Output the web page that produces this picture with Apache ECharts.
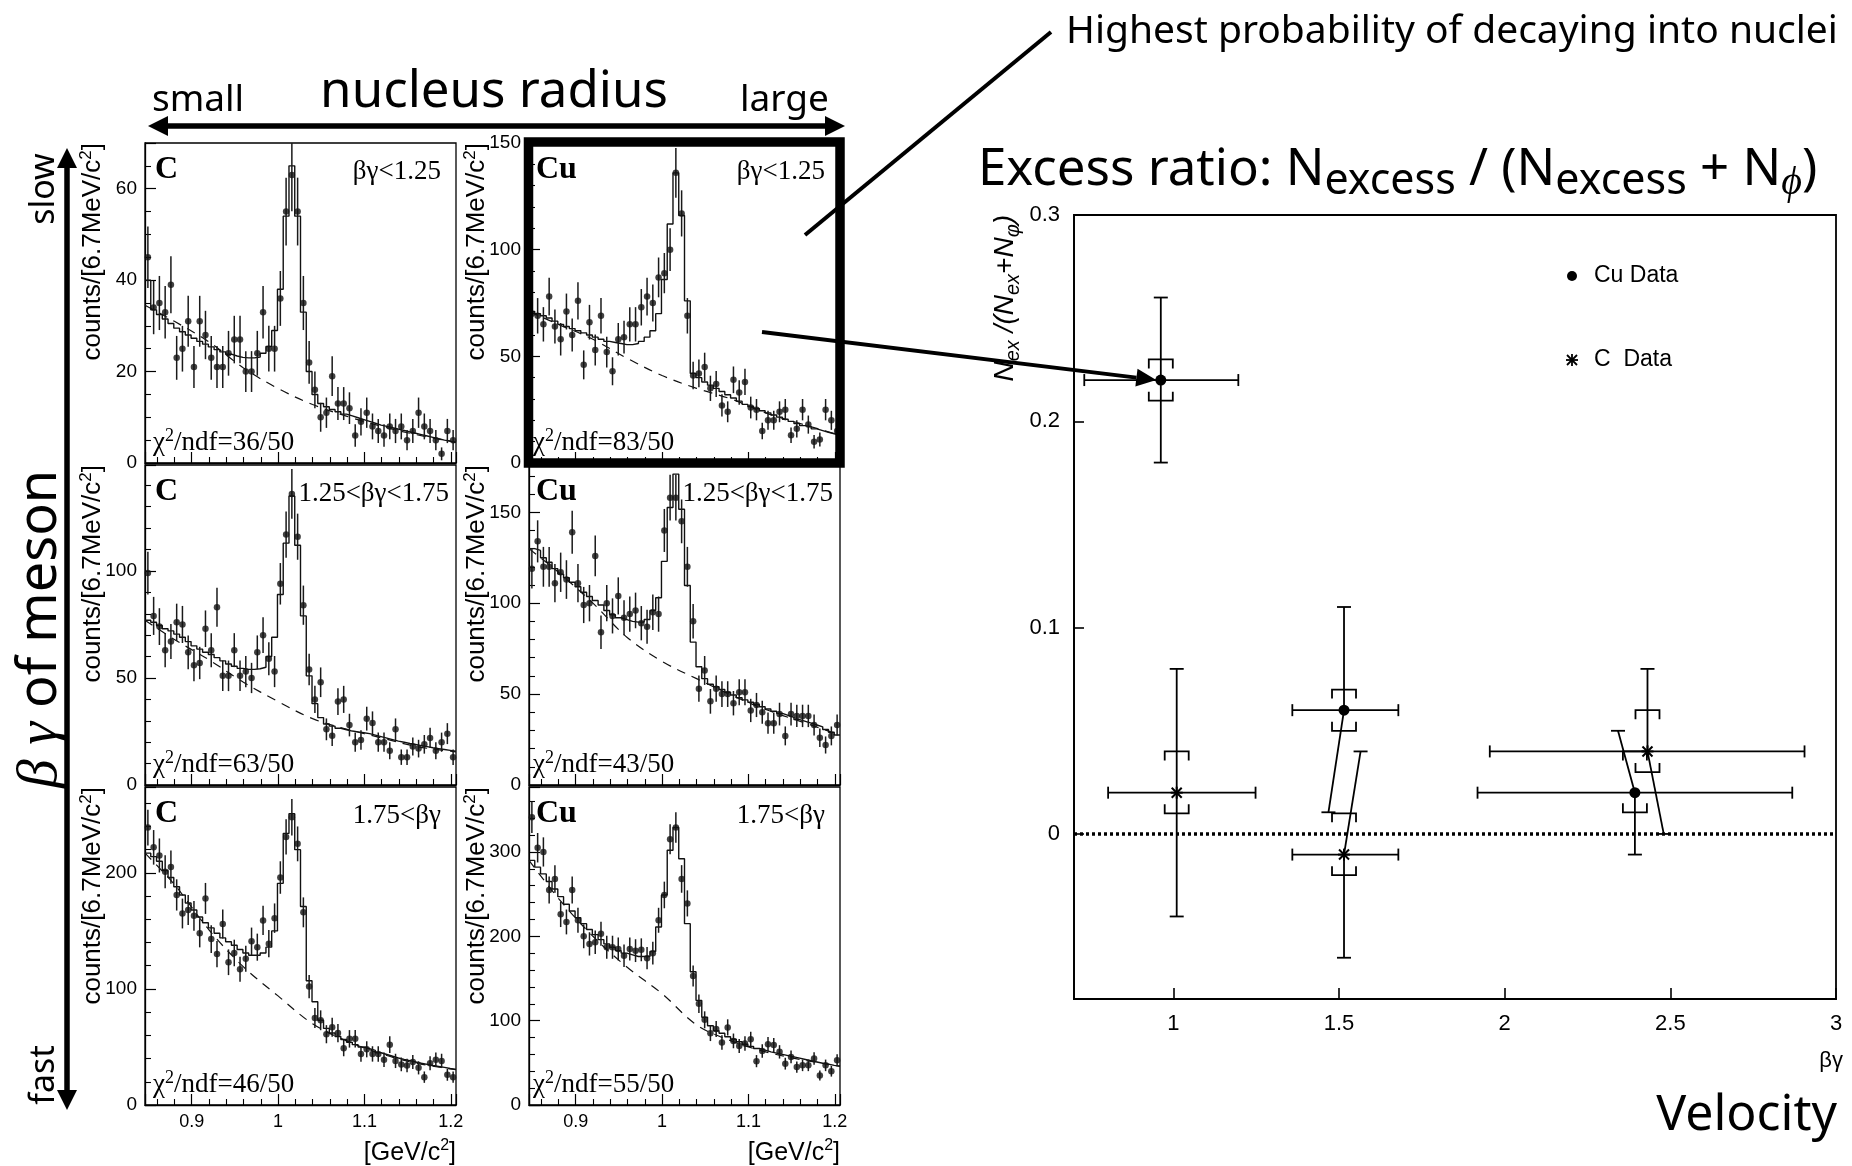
<!DOCTYPE html>
<html><head><meta charset="utf-8">
<script src="https://cdn.jsdelivr.net/npm/echarts@6/dist/echarts.min.js"></script>
<style>html,body{margin:0;padding:0;background:#fff}#chart{width:1852px;height:1166px}</style>
</head><body><div id="chart"></div>
<script>
// ================= DATA =================
// invariant-mass histograms: 54 bins between MASS_MIN and MASS_MAX [GeV/c^2]
const MASS_MIN = 0.846, MASS_MAX = 1.206, N_BINS = 54;
const panelTargets = ['C', 'Cu', 'C', 'Cu', 'C', 'Cu'];
const panelRanges = ['βγ<1.25', 'βγ<1.25', '1.25<βγ<1.75', '1.25<βγ<1.75', '1.75<βγ', '1.75<βγ'];
const panelChi2 = ['36/50', '83/50', '63/50', '43/50', '46/50', '55/50'];
const yMax = [70, 150, 149.5, 176, 274, 377];
const yStep = [20, 50, 50, 50, 100, 100];
const yMinorSplit = [4, 5, 5, 5, 5, 5];

const countsCSlow = [45,34,35,33,39,23,25,31,21,31,28,23,21,21,24,27,27,20,20,24,33,25,25,36,55,63,55,35,22,16,10,11,19,13,13,12,6,9,11,8,7,6,8,7,8,5,7,11,8,7,5,2,7,5];
const countsCuSlow = [70,69,65,78,64,58,71,60,76,46,66,53,69,52,43,58,59,65,65,73,78,75,87,89,100,136,117,69,41,42,45,35,37,27,24,39,33,38,26,25,15,20,20,24,25,13,16,25,18,10,11,25,20,15];
const countsCMid = [99,79,74,63,67,76,75,62,56,57,73,63,83,51,51,63,51,53,50,62,70,59,53,94,117,136,116,84,54,40,48,26,23,39,40,28,20,21,31,29,20,20,16,26,13,13,18,17,19,22,16,20,24,13];
const countsCuMid = [119,134,120,120,111,117,113,139,111,99,100,126,84,100,93,104,92,94,96,89,87,95,94,140,158,158,145,120,90,53,63,46,53,50,50,45,51,51,41,44,40,34,34,39,27,39,38,38,38,33,26,22,27,33];
const countsCFast = [239,222,215,201,205,181,165,168,163,148,178,143,130,156,123,131,117,126,141,136,159,139,161,196,231,248,225,166,102,75,73,61,67,62,49,57,57,44,48,44,44,39,52,38,35,34,37,32,24,36,39,38,26,24];
const countsCuFast = [341,305,300,255,268,226,217,255,219,200,191,193,203,187,187,185,177,185,183,184,174,180,219,249,315,329,268,239,153,120,101,85,90,74,92,76,70,73,78,52,64,72,71,63,49,57,45,47,47,55,35,47,40,53];

// fitted spectrum (solid step histogram)
const fitCSlow = [40,33.5,32.5,31.5,30.5,29.5,28.7,28,27.3,26.6,26,25.4,24.8,24.3,23.8,23.4,23.1,23,23,23.2,24,25.5,29,38,54,65,54,33,20,15,13,12.3,11.7,11.2,10.7,10.3,9.9,9.5,9.1,8.7,8.3,8,7.7,7.4,7.1,6.8,6.5,6.2,5.9,5.6,5.3,5,4.8,4.5];
const fitCuSlow = [71,70,69,68,66.5,65,64,63,62,61,60,59,58,57,56.5,56,55.5,55.5,56,57,59,62,70,86,112,136,116,76,42,40,38,36.5,35,33.5,32,30.5,29,27.5,26.5,25.5,24.5,23.5,22.5,21.5,20.5,19.5,18.5,17.5,17,16,15.2,14.4,13.7,13];
const fitCMid = [77,76,74.5,73,72,70.5,69,67,65,63.5,62,61,59.5,58,56.5,55.5,54.5,54,54,54.3,55,60,69,89,113,135,112,79,51,38,31.5,28.5,27.5,26.5,25.8,25.2,24.8,24.4,24,23.3,22.6,21.9,21.2,20.5,20,19.4,18.9,18.4,17.9,17.4,17,16.6,16.2,15.8];
const fitCuMid = [130,129,125,122.5,119,116,114,111.5,109,106,103.7,101.5,99,96,93.6,92,91,90,89.6,89.6,91,96,103,123,152.6,171,151.7,109.7,78.6,65,58.5,55.4,54,52.5,51,49.5,48,46.8,45.5,44.3,43,41.8,40.6,39.4,38.3,37.2,36,35,34,33,32,30.5,29,27.5];
const fitCFast = [217,214,210,202,196,188,181,174,168,162,157,152.6,148,144,140.6,137.7,134,131,129,129,131,136,150,191,234,251,220,171,107,89,73,66,62,59,56.5,54,52,50,48.5,47,45,43.5,42,40.5,39.3,38.2,37.1,36,35,34,33.2,32.4,31.5,30.7];
const fitCuFast = [290,282,274,265,256,247,238,230,222,215,208,202,196,191,187,183,180,178,176,176,176,182,211,249,302,329,292,215,158,124,104,94,88,85,81,78,75,72,69.5,67,65,63,61.5,60,58.5,57,55.5,54,52.5,51,49.5,48.5,47,46];

// background component of the fit (dashed curve), sampled at bkgMass
const bkgMass = [0.846, 0.88, 0.92, 0.96, 1.00, 1.04, 1.08, 1.12, 1.16, 1.206];
const bkgCSlow = [34.5, 31, 26.5, 20.8, 16.3, 12.8, 10.2, 8, 6.2, 4.5];
const bkgCuSlow = [71, 65, 58, 49, 41, 35, 30, 23.5, 18.5, 13];
const bkgCMid = [77, 68, 58.5, 48, 39, 31, 26, 22, 18, 15.5];
const bkgCuMid = [130, 117, 100, 81, 68, 58.5, 49.5, 41.5, 35, 27.5];
const bkgCFast = [217, 190, 151, 119, 94, 70, 55, 44, 36, 30.5];
const bkgCuFast = [290, 245, 200, 163, 132, 95, 76, 63, 54, 46];

const panelCounts = [countsCSlow, countsCuSlow, countsCMid, countsCuMid, countsCFast, countsCuFast];
const panelFit = [fitCSlow, fitCuSlow, fitCMid, fitCuMid, fitCFast, fitCuFast];
const panelBkg = [bkgCSlow, bkgCuSlow, bkgCMid, bkgCuMid, bkgCFast, bkgCuFast];

// excess ratio vs beta*gamma
const cuBetaGamma = [0.962, 1.515, 2.393];
const cuRatio = [0.22, 0.06, 0.02];
const cuBgLow = [0.731, 1.359, 1.918];
const cuBgHigh = [1.196, 1.679, 2.868];
const cuStatHigh = [0.26, 0.11, 0.05];
const cuStatHighAt = [0.962, 1.515, 2.342];
const cuStatLow = [0.18, 0.0105, -0.01];
const cuStatLowAt = [0.962, 1.468, 2.393];
const cuSysHigh = [0.23, 0.07, 0.04];
const cuSysLow = [0.21, 0.05, 0.0105];

const cBetaGamma = [1.01, 1.515, 2.431];
const cRatio = [0.02, -0.01, 0.04];
const cBgLow = [0.803, 1.359, 1.955];
const cBgHigh = [1.248, 1.679, 2.905];
const cStatHigh = [0.08, 0.04, 0.08];
const cStatHighAt = [1.01, 1.565, 2.431];
const cStatLow = [-0.04, -0.06, 0.0];
const cStatLowAt = [1.01, 1.515, 2.48];
const cSysHigh = [0.04, 0.01, 0.06];
const cSysLow = [0.01, -0.02, 0.03];

// ================= LAYOUT =================
const PANEL_LEFT = [145, 529];
const PANEL_TOP = [143, 465, 787];
const PANEL_W = 311;
const PANEL_H = [320, 320, 318];
const RATIO_GRID = {left: 1074, top: 215, width: 762, height: 784};
const SANS = 'Liberation Sans', SERIF = 'Liberation Serif', DECO = 'Noto Sans';

const binW = (MASS_MAX - MASS_MIN) / N_BINS;
const binCenters = Array.from({length: N_BINS}, (_, i) => MASS_MIN + (i + 0.5) * binW);
const binEdges = Array.from({length: N_BINS + 1}, (_, i) => MASS_MIN + i * binW);

const grids = [], xAxes = [], yAxes = [], series = [];
for (let p = 0; p < 6; p++) {
  const col = p % 2, row = Math.floor(p / 2);
  grids.push({left: PANEL_LEFT[col], top: PANEL_TOP[row], width: PANEL_W, height: PANEL_H[row],
    show: true, borderColor: '#000', borderWidth: 1.3, backgroundColor: 'transparent', outerBoundsMode: 'none', containLabel: false});
  xAxes.push({type: 'value', gridIndex: p, min: MASS_MIN, max: MASS_MAX, splitNumber: 4,
    axisLine: {show: true, onZero: false, lineStyle: {color: '#000', width: 1.3}},
    axisTick: {show: true, inside: true, length: 11, lineStyle: {color: '#000', width: 1.2}},
    minorTick: {show: true, splitNumber: 5, length: 6, lineStyle: {color: '#000', width: 1.1}},
    splitLine: {show: false}, minorSplitLine: {show: false},
    axisLabel: {show: row === 2, color: '#000', fontFamily: SANS, fontSize: 18, margin: 8, showMinLabel: false, showMaxLabel: false}});
  yAxes.push({type: 'value', gridIndex: p, min: 0, max: yMax[p], interval: yStep[p],
    axisLine: {show: true, onZero: false, lineStyle: {color: '#000', width: 1.3}},
    axisTick: {show: true, inside: true, length: 11, lineStyle: {color: '#000', width: 1.2}},
    minorTick: {show: true, splitNumber: yMinorSplit[p], length: 6, lineStyle: {color: '#000', width: 1.1}},
    splitLine: {show: false}, minorSplitLine: {show: false},
    axisLabel: {color: '#000', fontFamily: SANS, fontSize: 19, margin: 8, showMaxLabel: yMax[p] % yStep[p] === 0}});

  const counts = panelCounts[p], fit = panelFit[p], bkg = panelBkg[p];
  series.push({type: 'line', xAxisIndex: p, yAxisIndex: p, smooth: 0.35, symbol: 'none', z: 2,
    data: bkgMass.map((m, i) => [m, bkg[i]]),
    lineStyle: {color: '#111', width: 1.2, type: [9, 7]}});
  const stepData = binEdges.map((e, i) => [e, fit[Math.min(i, N_BINS - 1)]]);
  series.push({type: 'line', xAxisIndex: p, yAxisIndex: p, step: 'end', symbol: 'none', z: 3,
    data: stepData, lineStyle: {color: '#111', width: 1.4}});
  series.push({type: 'custom', xAxisIndex: p, yAxisIndex: p, clip: true, z: 4,
    data: binCenters.map((m, i) => [m, counts[i], Math.sqrt(counts[i])]),
    renderItem: function (params, api) {
      const x = api.value(0), y = api.value(1), e = api.value(2);
      const a = api.coord([x, y - e]), b = api.coord([x, y + e]);
      return {type: 'line', shape: {x1: a[0], y1: a[1], x2: b[0], y2: b[1]}, style: {stroke: '#1a1a1a', lineWidth: 1.5}};
    }});
  series.push({type: 'scatter', xAxisIndex: p, yAxisIndex: p, symbol: 'circle', symbolSize: 6.5, z: 5,
    itemStyle: {color: '#111'}, data: binCenters.map((m, i) => [m, counts[i]])});
}

// ratio plot
grids.push(Object.assign({show: true, borderColor: '#000', borderWidth: 1.8, backgroundColor: 'transparent', outerBoundsMode: 'none', containLabel: false}, RATIO_GRID));
xAxes.push({type: 'value', gridIndex: 6, min: 0.7, max: 3.0, splitNumber: 5,
  axisLine: {show: true, onZero: false, lineStyle: {color: '#000', width: 1.8}},
  axisTick: {show: true, inside: true, length: 11, lineStyle: {color: '#000', width: 1.6}},
  splitLine: {show: false},
  axisLabel: {color: '#000', fontFamily: SANS, fontSize: 22, margin: 14, showMinLabel: false}});
yAxes.push({type: 'value', gridIndex: 6, min: -0.08, max: 0.3, splitNumber: 4,
  axisLine: {show: true, onZero: false, lineStyle: {color: '#000', width: 1.8}},
  axisTick: {show: true, inside: true, length: 10, lineStyle: {color: '#000', width: 1.6}},
  splitLine: {show: false},
  axisLabel: {color: '#000', fontFamily: SANS, fontSize: 22, margin: 14, showMinLabel: false}});

function ratioItems(bg, r, bl, bh, sh, shx, sl, slx, yh, yl) {
  return bg.map((x, i) => [x, r[i], bl[i], bh[i], sh[i], shx[i], sl[i], slx[i], yh[i], yl[i]]);
}
function makeRatioRenderer(kind) {
  return function (params, api) {
    const st = {stroke: '#000', lineWidth: 1.8};
    const v = (d) => api.value(d);
    const c = api.coord([v(0), v(1)]);
    const pl = api.coord([v(2), v(1)]), ph = api.coord([v(3), v(1)]);
    const pu = api.coord([v(5), v(4)]), pd = api.coord([v(7), v(6)]);
    const ys = api.coord([v(0), v(8)])[1], yl = api.coord([v(0), v(9)])[1];
    const cap = 6, bw = 12, leg = 9;
    const segs = [
      [pl, ph], [[pl[0], pl[1] - cap], [pl[0], pl[1] + cap]], [[ph[0], ph[1] - cap], [ph[0], ph[1] + cap]],
      [c, pu], [[pu[0] - 7, pu[1]], [pu[0] + 7, pu[1]]],
      [c, pd], [[pd[0] - 7, pd[1]], [pd[0] + 7, pd[1]]]
    ];
    const children = segs.map(s => ({type: 'line', shape: {x1: s[0][0], y1: s[0][1], x2: s[1][0], y2: s[1][1]}, style: st}));
    children.push({type: 'polyline', shape: {points: [[c[0] - bw, ys + leg], [c[0] - bw, ys], [c[0] + bw, ys], [c[0] + bw, ys + leg]]}, style: {stroke: '#000', lineWidth: 1.8, fill: null}});
    children.push({type: 'polyline', shape: {points: [[c[0] - bw, yl - leg], [c[0] - bw, yl], [c[0] + bw, yl], [c[0] + bw, yl - leg]]}, style: {stroke: '#000', lineWidth: 1.8, fill: null}});
    if (kind === 'cu') {
      children.push({type: 'circle', shape: {cx: c[0], cy: c[1], r: 5.5}, style: {fill: '#000'}});
    } else {
      const s = 5;
      [[[-s, -s], [s, s]], [[-s, s], [s, -s]], [[0, -s - 1], [0, s + 1]], [[-s - 1, 0], [s + 1, 0]]].forEach(q => {
        children.push({type: 'line', shape: {x1: c[0] + q[0][0], y1: c[1] + q[0][1], x2: c[0] + q[1][0], y2: c[1] + q[1][1]}, style: {stroke: '#000', lineWidth: 2}});
      });
    }
    return {type: 'group', children};
  };
}
series.push({type: 'custom', xAxisIndex: 6, yAxisIndex: 6, clip: false, z: 5,
  data: ratioItems(cuBetaGamma, cuRatio, cuBgLow, cuBgHigh, cuStatHigh, cuStatHighAt, cuStatLow, cuStatLowAt, cuSysHigh, cuSysLow),
  renderItem: makeRatioRenderer('cu'),
  markLine: {silent: true, symbol: 'none', label: {show: false}, animation: false,
    lineStyle: {color: '#000', width: 3.5, type: [3, 3]}, data: [{yAxis: 0}]}});
series.push({type: 'custom', xAxisIndex: 6, yAxisIndex: 6, clip: false, z: 5,
  data: ratioItems(cBetaGamma, cRatio, cBgLow, cBgHigh, cStatHigh, cStatHighAt, cStatLow, cStatLowAt, cSysHigh, cSysLow),
  renderItem: makeRatioRenderer('c')});

const chart = echarts.init(document.getElementById('chart'), null, {renderer: 'canvas', width: 1852, height: 1166});
chart.setOption({backgroundColor: '#fff', animation: false, grid: grids, xAxis: xAxes, yAxis: yAxes, series: series});

// ================= ANNOTATIONS =================
function txt(x, y, text, o) {
  o = o || {};
  const style = Object.assign({text: text, fill: '#000', fontFamily: o.family || SANS, fontSize: o.size || 20,
    fontWeight: o.weight || 'normal', fontStyle: o.italic ? 'italic' : 'normal',
    align: o.align || 'left', textAlign: o.align || 'left', verticalAlign: o.va || 'middle', textVerticalAlign: o.va || 'middle'}, o.rich ? {rich: o.rich} : {});
  return {type: 'text', x: x, y: y, rotation: o.rot || 0, z: 100, style: style};
}
function supRich(family, size, supSize) {
  return {t: {fontFamily: family, fontSize: size, lineHeight: Math.round(size * 1.2), verticalAlign: 'middle', fill: '#000'},
          u: {fontFamily: family, fontSize: supSize, lineHeight: supSize, verticalAlign: 'top', fill: '#000'}};
}
const g = [];
for (let p = 0; p < 6; p++) {
  const col = p % 2, row = Math.floor(p / 2);
  const L = PANEL_LEFT[col], T = PANEL_TOP[row], R = L + PANEL_W, B = T + PANEL_H[row];
  g.push(txt(L + (col ? 7 : 10), T + 27, panelTargets[p], {family: SERIF, weight: 'bold', size: 32}));
  g.push(txt(R - (row === 1 ? 7 : 15), T + 29, panelRanges[p], {family: SERIF, size: 27, align: 'right'}));
  g.push(txt(L + (col ? 4 : 8), B - 20, '{t|χ}{u|2}{t|/ndf=' + panelChi2[p] + '}', {family: SERIF, size: 27, rich: supRich(SERIF, 27, 18)}));
  g.push(txt(col ? 477 : 93, T, '{t|counts/[6.7MeV/c}{u|2}{t|]}', {size: 26, align: 'right', rot: Math.PI / 2, rich: supRich(SANS, 26, 17)}));
  if (row === 2) g.push(txt(R, 1153, '{t|[GeV/c}{u|2}{t|]}', {size: 25, align: 'right', rich: supRich(SANS, 25, 16)}));
}
// top double arrow
g.push(txt(152, 100, 'small', {family: DECO, size: 37}));
g.push(txt(494, 92, 'nucleus radius', {family: DECO, size: 51, align: 'center'}));
g.push(txt(740, 100, 'large', {family: DECO, size: 37}));
g.push({type: 'line', z: 100, shape: {x1: 164, y1: 126, x2: 828, y2: 126}, style: {stroke: '#000', lineWidth: 5.5}});
g.push({type: 'polygon', z: 100, shape: {points: [[148, 126], [168, 116], [168, 136]]}, style: {fill: '#000'}});
g.push({type: 'polygon', z: 100, shape: {points: [[845, 126], [825, 116], [825, 136]]}, style: {fill: '#000'}});
// left double arrow
g.push({type: 'line', z: 100, shape: {x1: 67, y1: 165, x2: 67, y2: 1092}, style: {stroke: '#000', lineWidth: 5.5}});
g.push({type: 'polygon', z: 100, shape: {points: [[67, 148], [57, 168], [77, 168]]}, style: {fill: '#000'}});
g.push({type: 'polygon', z: 100, shape: {points: [[67, 1110], [57, 1090], [77, 1090]]}, style: {fill: '#000'}});
g.push(txt(44, 189, 'slow', {family: DECO, size: 34, align: 'center', rot: Math.PI / 2}));
g.push(txt(44, 1075, 'fast', {family: DECO, size: 34, align: 'center', rot: Math.PI / 2}));
g.push(txt(41, 629, '{g|β γ}{t| of meson}', {family: DECO, size: 54, align: 'center', rot: Math.PI / 2,
  rich: {g: {fontFamily: SERIF, fontStyle: 'italic', fontSize: 58, fill: '#000'}, t: {fontFamily: DECO, fontSize: 54, fill: '#000'}}}));
// highlight box & pointers
g.push({type: 'rect', z: 101, shape: {x: 528.5, y: 142, width: 311.5, height: 321}, style: {fill: null, stroke: '#000', lineWidth: 9.5}});
g.push({type: 'line', z: 100, shape: {x1: 805, y1: 235, x2: 1051, y2: 32}, style: {stroke: '#000', lineWidth: 4}});
g.push(txt(1066, 32, 'Highest probability of decaying into nuclei', {family: DECO, size: 39}));
const pt = chart.convertToPixel({xAxisIndex: 6, yAxisIndex: 6}, [cuBetaGamma[0], cuRatio[0]]);
const start = [762, 332], tip = [pt[0] - 4.5, pt[1]];
const dx = tip[0] - start[0], dy = tip[1] - start[1], len = Math.hypot(dx, dy), ux = dx / len, uy = dy / len;
const hl = 20, hw = 9, bx = tip[0] - ux * hl, by = tip[1] - uy * hl;
g.push({type: 'line', z: 100, shape: {x1: start[0], y1: start[1], x2: bx, y2: by}, style: {stroke: '#000', lineWidth: 4}});
g.push({type: 'polygon', z: 100, shape: {points: [tip, [bx - uy * hw, by + ux * hw], [bx + uy * hw, by - ux * hw]]}, style: {fill: '#000'}});
// ratio plot title, axis names, legend
g.push(txt(978, 170, '{m|Excess ratio: N}{s|excess}{m| / (N}{s|excess}{m| + N}{p|ϕ}{m|)}', {family: DECO, size: 51,
  rich: {m: {fontFamily: DECO, fontSize: 51, lineHeight: 66, verticalAlign: 'middle', fill: '#000'},
         s: {fontFamily: DECO, fontSize: 43, lineHeight: 46, verticalAlign: 'bottom', fill: '#000'},
         p: {fontFamily: SERIF, fontStyle: 'italic', fontSize: 40, lineHeight: 46, verticalAlign: 'bottom', fill: '#000'}}}));
g.push(txt(1005, 215, '{n|N}{s|ex}{n| /(N}{s|ex}{n|+N}{s|φ}{n|)}', {size: 28, align: 'right', rot: Math.PI / 2,
  rich: {n: {fontFamily: SANS, fontStyle: 'italic', fontSize: 28, lineHeight: 36, verticalAlign: 'middle', fill: '#000'},
         s: {fontFamily: SANS, fontStyle: 'italic', fontSize: 20, lineHeight: 22, verticalAlign: 'bottom', fill: '#000'}}}));
g.push(txt(1843, 1061, 'βγ', {size: 22, align: 'right'}));
g.push(txt(1837, 1116, 'Velocity', {family: DECO, size: 50, align: 'right'}));
g.push({type: 'circle', z: 100, shape: {cx: 1572, cy: 276, r: 5}, style: {fill: '#000'}});
g.push(txt(1594, 276, 'Cu Data', {size: 23}));
[[[-5, -5], [5, 5]], [[-5, 5], [5, -5]], [[0, -6], [0, 6]], [[-6, 0], [6, 0]]].forEach(q => {
  g.push({type: 'line', z: 100, shape: {x1: 1572 + q[0][0], y1: 360 + q[0][1], x2: 1572 + q[1][0], y2: 360 + q[1][1]}, style: {stroke: '#000', lineWidth: 1.8}});
});
g.push(txt(1594, 360, 'C  Data', {size: 23}));

chart.setOption({graphic: {elements: g}});
</script></body></html>
